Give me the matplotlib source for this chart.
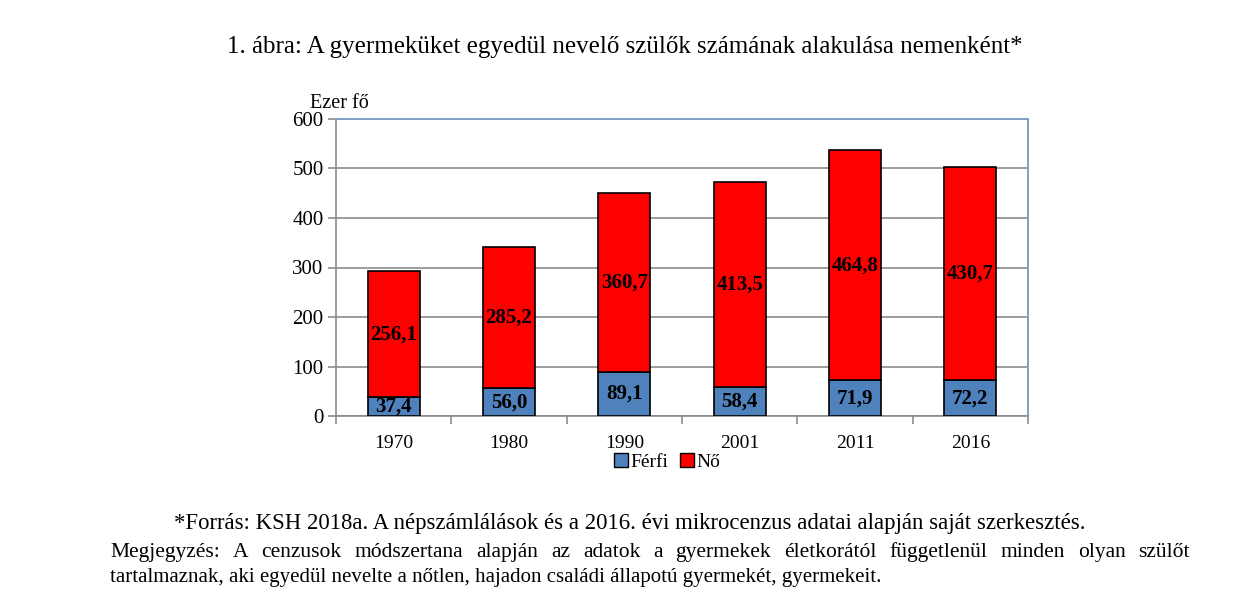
import matplotlib.pyplot as plt
import numpy as np
from matplotlib.patches import Patch

years = ['1970', '1980', '1990', '2001', '2011', '2016']
ferfi = [37.4, 56.0, 89.1, 58.4, 71.9, 72.2]
no = [256.1, 285.2, 360.7, 413.5, 464.8, 430.7]
y_ticks = [0, 100, 200, 300, 400, 500, 600]

title = '1. ábra: A gyermeküket egyedül nevelő szülők számának alakulása nemenként*'
source = '*Forrás: KSH 2018a. A népszámlálások és a 2016. évi mikrocenzus adatai alapján saját szerkesztés.'
note_1 = ('Megjegyzés: A cenzusok módszertana alapján az adatok a gyermekek életkorától '
          'függetlenül minden olyan szülőt')
note_2 = 'tartalmaznak, aki egyedül nevelte a nőtlen, hajadon családi állapotú gyermekét, gyermekeit.'

plt.rcParams.update({
    'font.family': ['Liberation Serif', 'DejaVu Serif'],
    'font.size': 14,
})

BLUE = '#4f81bd'
RED = '#ff0000'
GRID = '#8c8c8c'

fig = plt.figure(figsize=(12.59, 6.10), dpi=100)
ax = fig.add_axes([336 / 1259, 1 - 416 / 610, (1028 - 336) / 1259, (416 - 119) / 610])

x = np.arange(len(years))
w = 0.45
ax.bar(x, ferfi, w, color=BLUE, edgecolor='black', linewidth=1.2, zorder=3)
ax.bar(x, no, w, bottom=ferfi, color=RED, edgecolor='black', linewidth=1.2, zorder=3)

for xi, f, n in zip(x, ferfi, no):
    ax.text(xi, f / 2, f'{f:.1f}'.replace('.', ','), ha='center', va='center',
            fontsize=15, fontweight='bold', zorder=4)
    ax.text(xi, f + n / 2, f'{n:.1f}'.replace('.', ','), ha='center', va='center',
            fontsize=15, fontweight='bold', zorder=4)

ax.set_xlim(-0.5, len(years) - 0.5)
ax.set_ylim(0, 600)
ax.set_yticks(y_ticks)
ax.yaxis.grid(True, color=GRID, linewidth=1.2, zorder=0)
ax.set_axisbelow(True)

ax.set_xticks(x)
ax.set_xticklabels(years)
ax.set_xticks(np.arange(-0.5, len(years)), minor=True)
ax.tick_params(axis='x', which='major', length=0, pad=14, labelsize=14)
ax.tick_params(axis='x', which='minor', length=6, color=GRID, width=1.2)
ax.tick_params(axis='y', length=6, color=GRID, width=1.2, pad=3, labelsize=15)

for side in ['left', 'bottom']:
    ax.spines[side].set_color(GRID)
    ax.spines[side].set_linewidth(1.2)
for side in ['top', 'right']:
    ax.spines[side].set_color('#7f9fc4')
    ax.spines[side].set_linewidth(1.4)

ax.text(-0.0376, 1.02, 'Ezer fő', transform=ax.transAxes, fontsize=14.5, ha='left', va='bottom')

handles = [Patch(facecolor=BLUE, edgecolor='black', label='Férfi'),
           Patch(facecolor=RED, edgecolor='black', label='Nő')]
fig.legend(handles=handles, loc='center', bbox_to_anchor=(667 / 1259, 1 - 462 / 610),
           ncol=2, frameon=False, handlelength=0.75, handleheight=0.75,
           handletextpad=0.1, columnspacing=0.6, fontsize=14, borderpad=0)

fig.text(625 / 1259, 1 - 47 / 610, title, ha='center', va='center', fontsize=18)
fig.text(630 / 1259, 1 - 523 / 610, source, ha='center', va='center', fontsize=16.4)


def justify(text, x0, x1, y, size):
    # place words so the line spans exactly from x0 to x1 (pixels)
    words = text.split(' ')
    r = fig.canvas.get_renderer()
    items = [fig.text(0, 0, wd, fontsize=size, va='baseline') for wd in words]
    widths = [t.get_window_extent(r).width for t in items]
    gap = (x1 - x0 - sum(widths)) / (len(words) - 1)
    pos = x0
    for t, wdt in zip(items, widths):
        t.set_position((pos / 1259, 1 - y / 610))
        pos += wdt + gap


justify(note_1, 110, 1190, 557, 15.5)
fig.text(110 / 1259, 1 - 582 / 610, note_2, ha='left', va='baseline', fontsize=15.0)

fig.savefig('out.png', dpi=100, facecolor='white')
